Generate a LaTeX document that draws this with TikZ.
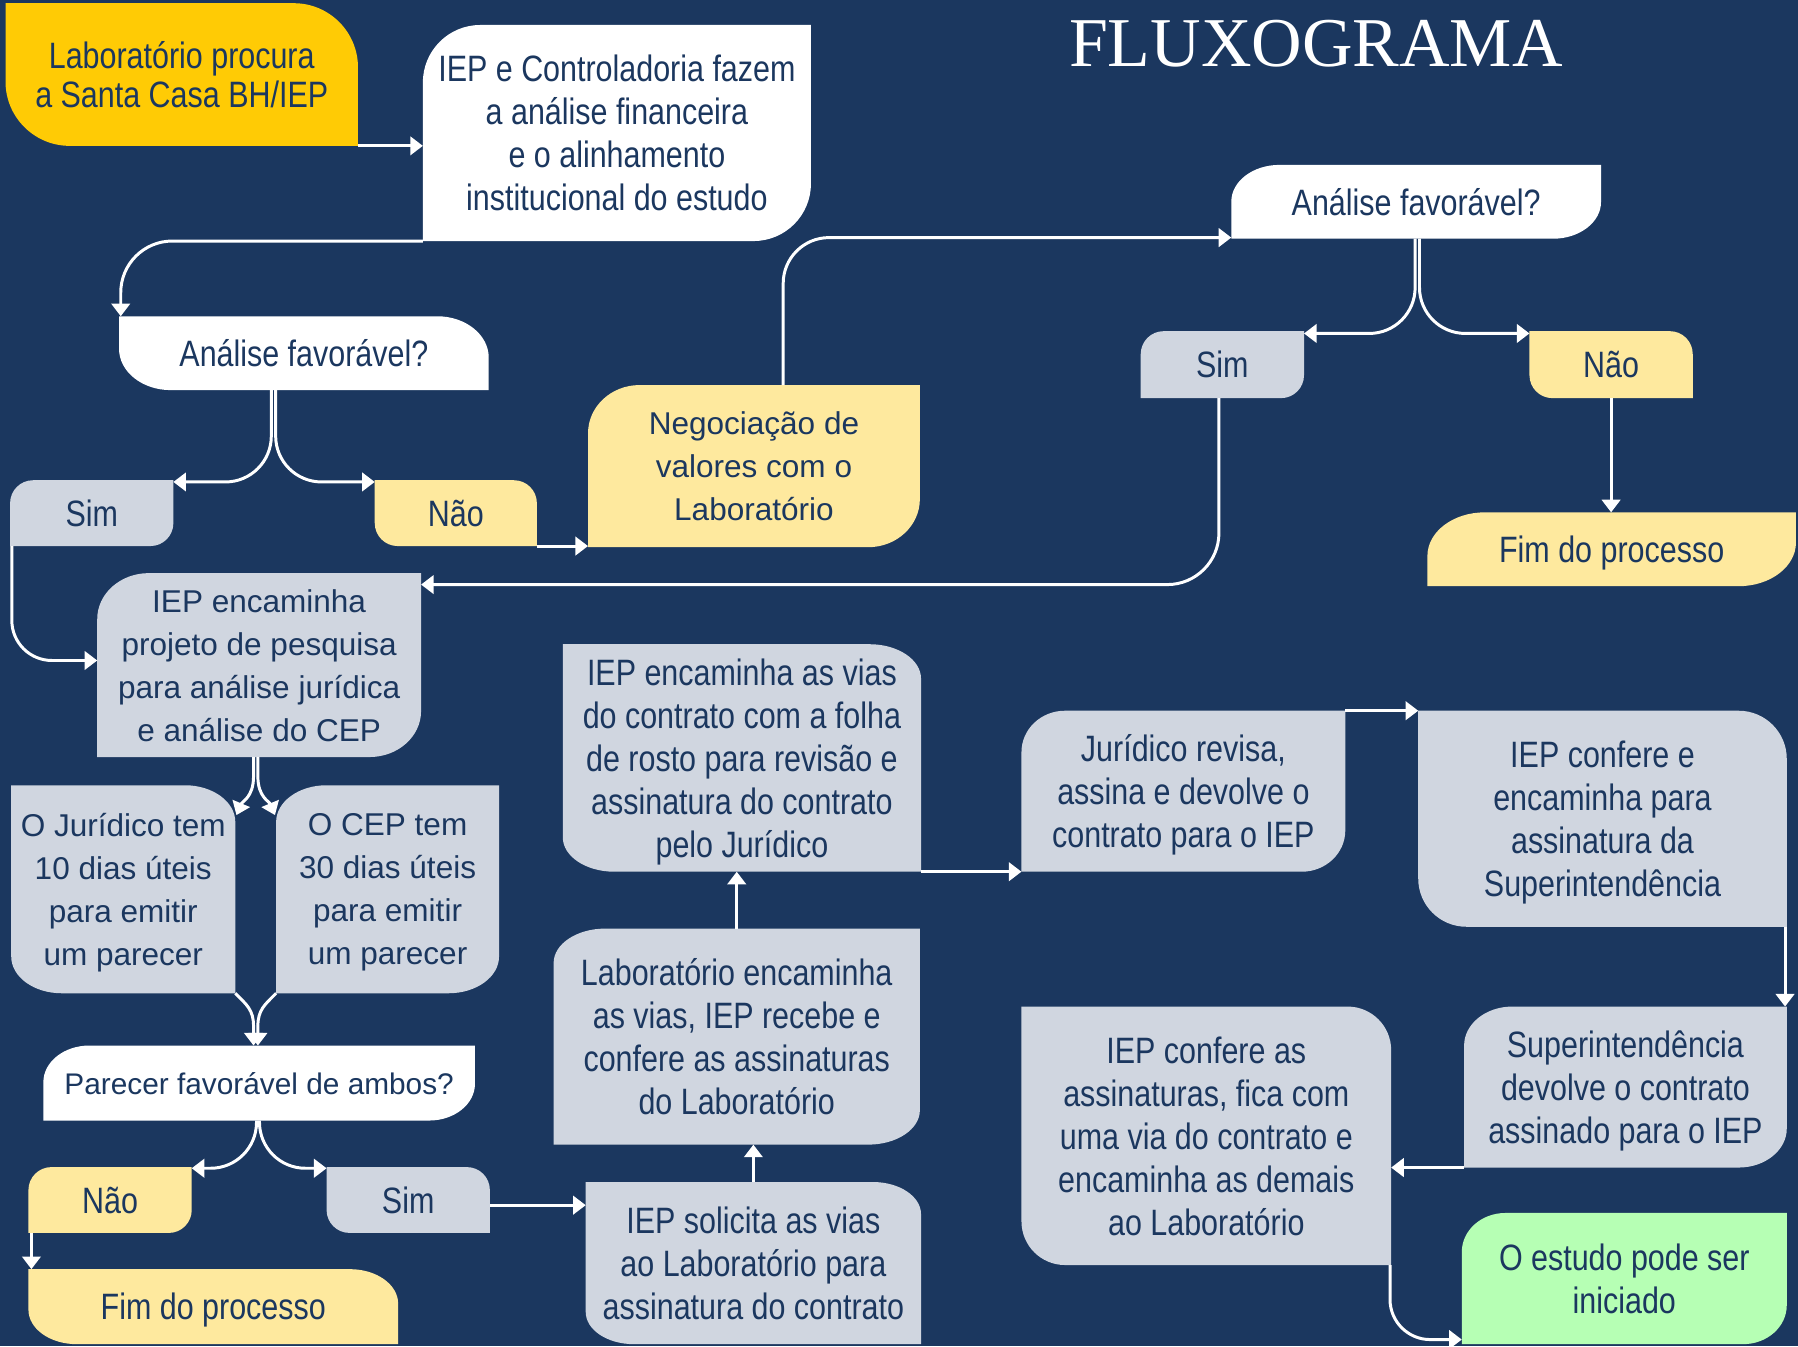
\documentclass[tikz,border=0pt]{standalone}
\usepackage{fontspec}
\setmainfont{Liberation Sans}
\newfontfamily\condf[FakeStretch=0.83]{Liberation Sans}
\newfontfamily\medf{Liberation Sans}
\newfontfamily\titlef{Liberation Serif}
\usetikzlibrary{arrows.meta,calc}
\pgfdeclarelayer{background}
\pgfsetlayers{background,main}
\definecolor{bgnavy}{HTML}{1B375F}
\definecolor{boxgold}{HTML}{FFCB05}
\definecolor{boxyel}{HTML}{FEE99E}
\definecolor{boxgrey}{HTML}{D0D6E0}
\definecolor{boxgreen}{HTML}{B6FFB4}
% top-left and bottom-right corners rounded
\newcommand\leafTLBR[4]{%
  \fill[#2] let \p1=(#1.north west), \p2=(#1.south east) in
    (\x1,\y2) -- (\x1,\y1-#4) arc[start angle=180,end angle=90,x radius=#3,y radius=#4]
    -- (\x2,\y1) -- (\x2,\y2+#4) arc[start angle=0,end angle=-90,x radius=#3,y radius=#4] -- cycle;}
% top-right and bottom-left corners rounded
\newcommand\leafTRBL[4]{%
  \fill[#2] let \p1=(#1.north west), \p2=(#1.south east) in
    (\x1,\y1) -- (\x2-#3,\y1) arc[start angle=90,end angle=0,x radius=#3,y radius=#4]
    -- (\x2,\y2) -- (\x1+#3,\y2) arc[start angle=270,end angle=180,x radius=#3,y radius=#4] -- cycle;}
\tikzset{
  box/.style={inner sep=0pt, align=center, text=bgnavy, text depth=0pt},
  cf/.style={font=\condf\fontsize{32}{37.5}\selectfont},
  mf/.style={font=\medf\fontsize{27.5}{37.5}\selectfont},
  arr/.style={color=white, line width=2.6pt, -{Triangle[width=16pt,length=11pt]}}
}
\begin{document}
\begin{tikzpicture}[x=1pt,y=-1pt]
\useasboundingbox (0,0) rectangle (1568,1174);
\begin{pgfonlayer}{background}
\fill[bgnavy] (0,0) rectangle (1568,1174);
\end{pgfonlayer}

\node[font=\titlef\fontsize{61}{61}\selectfont, text=white, anchor=base] (title) at (1147.5,58) {FLUXOGRAMA};

\node[box,font=\condf\fontsize{32}{34}\selectfont,minimum width=307pt,minimum height=124pt] (lab) at (158.5,65) {Laboratório procura\\a Santa Casa BH/IEP};
\node[box,cf,minimum width=338pt,minimum height=188pt] (ctrl) at (538,116) {IEP e Controladoria fazem\\a análise financeira\\e o alinhamento\\institucional do estudo};
\node[box,cf,minimum width=322pt,minimum height=64pt] (af1) at (265,308) {Análise favorável?};
\node[box,cf,minimum width=142pt,minimum height=57pt] (sim1) at (80,447.5) {Sim};
\node[box,cf,minimum width=141pt,minimum height=57pt] (nao1) at (397.5,447.5) {Não};
\node[box,mf,minimum width=289pt,minimum height=141pt] (neg) at (657.5,406.5) {Negociação de\\valores com o\\Laboratório};
\node[box,cf,minimum width=322pt,minimum height=64pt] (af2) at (1235,176) {Análise favorável?};
\node[box,cf,minimum width=142pt,minimum height=58pt] (sim2) at (1066,318) {Sim};
\node[box,cf,minimum width=142pt,minimum height=58pt] (nao2) at (1405,318) {Não};
\node[box,cf,minimum width=321pt,minimum height=64pt] (fim2) at (1405.5,479) {Fim do processo};
\node[box,mf,minimum width=282pt,minimum height=160pt] (proj) at (226,580) {IEP encaminha\\projeto de pesquisa\\para análise jurídica\\e análise do CEP};
\node[box,mf,minimum width=195pt,minimum height=181pt] (jur) at (107.5,775.5) {O Jurídico tem\\10 dias úteis\\para emitir\\um parecer};
\node[box,mf,minimum width=194pt,minimum height=181pt] (cep) at (338,775.5) {O CEP tem\\30 dias úteis\\para emitir\\um parecer};
\node[box,font=\medf\fontsize{26}{30}\selectfont,minimum width=376pt,minimum height=65pt] (par) at (226,944.5) {Parecer favorável de ambos?};
\node[box,cf,minimum width=142pt,minimum height=57pt] (nao3) at (96,1046.5) {Não};
\node[box,cf,minimum width=142pt,minimum height=57pt] (sim3) at (356,1046.5) {Sim};
\node[box,cf,minimum width=322pt,minimum height=65pt] (fim1) at (186,1139.5) {Fim do processo};
\node[box,cf,minimum width=312pt,minimum height=198pt] (vias) at (647,661) {IEP encaminha as vias\\do contrato com a folha\\de rosto para revisão e\\assinatura do contrato\\pelo Jurídico};
\node[box,cf,minimum width=319pt,minimum height=188pt] (labenc) at (642.5,904) {Laboratório encaminha\\as vias, IEP recebe e\\confere as assinaturas\\do Laboratório};
\node[box,cf,minimum width=292pt,minimum height=141pt] (sol) at (657,1101.5) {IEP solicita as vias\\ao Laboratório para\\assinatura do contrato};
\node[box,cf,minimum width=282pt,minimum height=140pt] (jrev) at (1032,690) {Jurídico revisa,\\assina e devolve o\\contrato para o IEP};
\node[box,cf,minimum width=321pt,minimum height=188pt] (conf) at (1397.5,714) {IEP confere e\\encaminha para\\assinatura da\\Superintendência};
\node[box,cf,minimum width=281pt,minimum height=140pt] (sup) at (1417.5,948) {Superintendência\\devolve o contrato\\assinado para o IEP};
\node[box,cf,minimum width=322pt,minimum height=225pt] (confas) at (1052,990.5) {IEP confere as\\assinaturas, fica com\\uma via do contrato e\\encaminha as demais\\ao Laboratório};
\node[box,cf,minimum width=283pt,minimum height=114pt] (est) at (1416.5,1115) {O estudo pode ser\\iniciado};

\begin{pgfonlayer}{background}
\leafTRBL{lab}{boxgold}{56pt}{56pt}
\leafTLBR{ctrl}{white}{50pt}{50pt}
\leafTRBL{af1}{white}{45pt}{36pt}
\leafTLBR{sim1}{boxgrey}{20pt}{20pt}
\leafTRBL{nao1}{boxyel}{20pt}{20pt}
\leafTLBR{neg}{boxyel}{45pt}{42pt}
\leafTLBR{af2}{white}{42pt}{32pt}
\leafTLBR{sim2}{boxgrey}{20pt}{20pt}
\leafTRBL{nao2}{boxyel}{20pt}{20pt}
\leafTLBR{fim2}{boxyel}{50pt}{38pt}
\leafTLBR{proj}{boxgrey}{45pt}{40pt}
\leafTRBL{jur}{boxgrey}{44pt}{32pt}
\leafTLBR{cep}{boxgrey}{44pt}{32pt}
\leafTLBR{par}{white}{40pt}{32pt}
\leafTLBR{nao3}{boxyel}{20pt}{20pt}
\leafTRBL{sim3}{boxgrey}{20pt}{20pt}
\leafTRBL{fim1}{boxyel}{42pt}{30pt}
\leafTRBL{vias}{boxgrey}{45pt}{30pt}
\leafTLBR{labenc}{boxgrey}{45pt}{30pt}
\leafTRBL{sol}{boxgrey}{42pt}{28pt}
\leafTLBR{jrev}{boxgrey}{38pt}{36pt}
\leafTRBL{conf}{boxgrey}{42pt}{42pt}
\leafTLBR{sup}{boxgrey}{42pt}{34pt}
\leafTRBL{confas}{boxgrey}{38pt}{38pt}
\leafTLBR{est}{boxgreen}{38pt}{34pt}
\end{pgfonlayer}

% connectors
\draw[arr] (lab.south east) -- (lab.south east -| ctrl.west);
\draw[arr, rounded corners=45pt] (ctrl.south west) -| ($(af1.north west)+(1.5,0)$);

\coordinate (s1) at ($(af1.south)+(-26.5,0)$);
\draw[arr, rounded corners=40pt] ($(s1)+(-1.9,0)$) |- ($(sim1.north east)+(0,1.5)$);
\draw[arr, rounded corners=40pt] ($(s1)+(1.9,0)$) |- ($(nao1.north west)+(0,1.5)$);

\draw[arr] (nao1.south east) -- (nao1.south east -| neg.west);
\draw[arr, rounded corners=40pt] ($(neg.north)+(25.5,0)$) |- ($(af2.south west)+(0,-1)$);

\coordinate (s2) at ($(af2.south)+(1,0)$);
\draw[arr, rounded corners=40pt] ($(s2)+(-1.9,0)$) |- ($(sim2.north east)+(0,2)$);
\draw[arr, rounded corners=40pt] ($(s2)+(1.9,0)$) |- ($(nao2.north west)+(0,2)$);

\draw[arr] (nao2.south) -- (nao2.south |- fim2.north);
\draw[arr, rounded corners=45pt] ($(sim2.south)+(-3,0)$) |- ($(proj.north east)+(0,10)$);
\draw[arr, rounded corners=35pt] ($(sim1.south west)+(1.5,0)$) |- ($(proj.west)+(0,-4)$);

\coordinate (s3) at ($(proj.south)+(-3,0)$);
\draw[arr] ($(s3)+(-1.9,0)$) -- ++(0,17) .. controls +(0,18) and +(5,-12) .. ($(jur.north east)+(1,26)$);
\draw[arr] ($(s3)+(1.9,0)$) -- ++(0,17) .. controls +(0,18) and +(-5,-12) .. ($(cep.north west)+(-1,26)$);

\coordinate (m1) at ($(par.north)+(-3,-17)$);
\coordinate (m1a) at ($(m1)+(-1.9,0)$);
\coordinate (m1b) at ($(m1)+(1.9,0)$);
\draw[arr] (jur.south east) .. controls +(10,10) and +(0,-14) .. (m1a) -- (m1a |- par.north);
\draw[arr] (cep.south west) .. controls +(-10,10) and +(0,-14) .. (m1b) -- (m1b |- par.north);

\coordinate (s4) at ($(par.south)+(-1,0)$);
\draw[arr, rounded corners=40pt] ($(s4)+(-1.3,0)$) |- ($(nao3.north east)+(0,1)$);
\draw[arr, rounded corners=40pt] ($(s4)+(1.3,0)$) |- ($(sim3.north west)+(0,1)$);

\coordinate (c1) at ($(nao3.south west)+(2.6,0)$);
\draw[arr] (c1) -- (c1 |- fim1.north);
\coordinate (c2) at ($(sim3.east)+(0,4.5)$);
\draw[arr] (c2) -- (c2 -| sol.west);
\draw[arr] (sol.north) -- (sol.north |- labenc.south);
\draw[arr] (labenc.north) -- (labenc.north |- vias.south);
\draw[arr] (vias.south east) -- (vias.south east -| jrev.west);
\draw[arr] (jrev.north east) -- (jrev.north east -| conf.west);
\coordinate (c3) at ($(conf.south east)+(-1.5,0)$);
\draw[arr] (c3) -- (c3 |- sup.north);
\draw[arr] (sup.south west) -- (sup.south west -| confas.east);
\draw[arr, rounded corners=35pt] ($(confas.south east)+(-1,0)$) |- ($(est.south west)+(0,-4)$);
\end{tikzpicture}
\end{document}
